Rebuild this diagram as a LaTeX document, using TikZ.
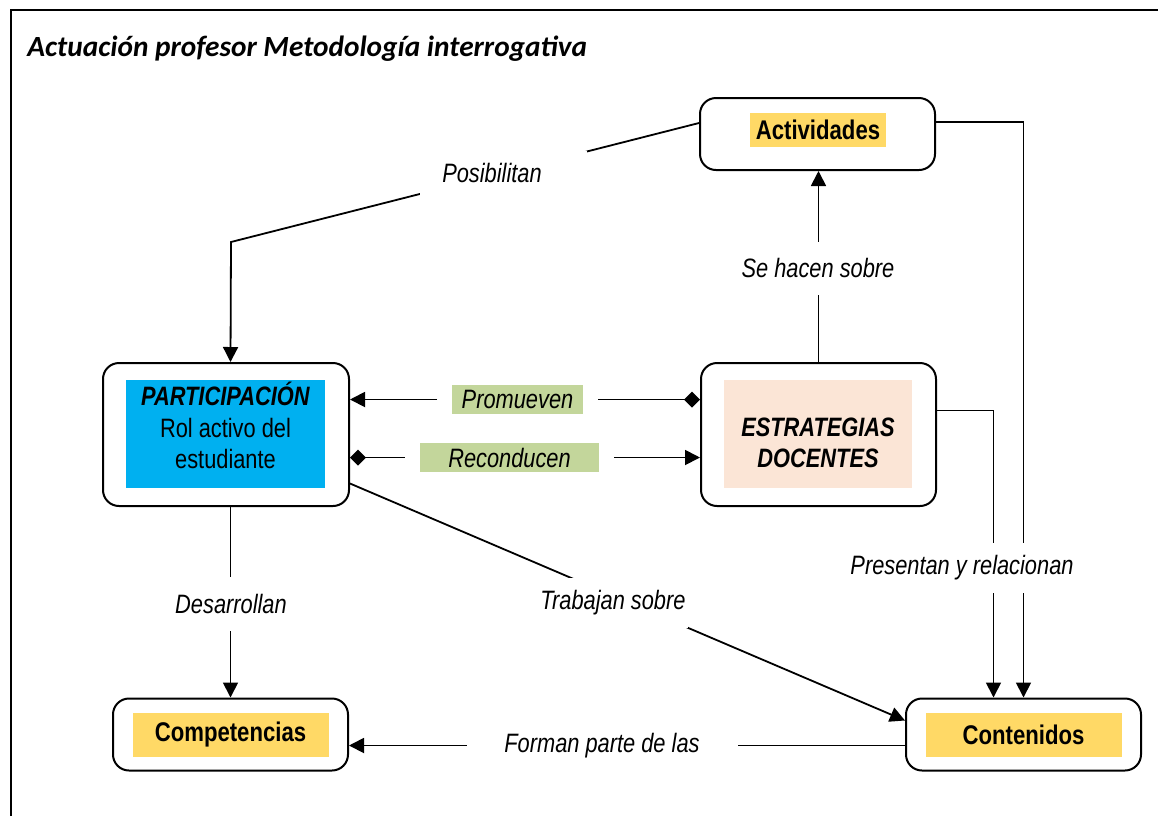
\documentclass[tikz,border=0pt]{standalone}
\usepackage{fontspec}
\setmainfont[FakeStretch=0.82]{Liberation Sans}
\newfontfamily\titlefont{Carlito}
\usetikzlibrary{arrows.meta,calc}
\definecolor{hlyellow}{HTML}{FFD966}
\definecolor{partblue}{HTML}{00B0F0}
\definecolor{estrpeach}{HTML}{FBE5D6}
\definecolor{taggreen}{HTML}{C3D69B}
\begin{document}
\begin{tikzpicture}[
		x=0.5pt, y=-0.5pt,
		every node/.style={
				font=\fontsize{13.3}{15.75}\selectfont,
			},
		box/.style={draw, line width=1pt, rounded corners=8pt, minimum width=117.5pt, minimum height=36pt},
		hl/.style={fill=hlyellow, inner sep=0pt, font=\fontsize{13.5}{16}\selectfont\bfseries},
		lbl/.style={fill=white, inner sep=0pt, font=\fontsize{13.3}{15.75}\selectfont\itshape},
		tag/.style={fill=taggreen, inner sep=0pt, outer sep=7.5pt, minimum height=14.5pt, font=\fontsize{13.3}{15.75}\selectfont\itshape},
		arr/.style={-{Triangle[length=7.5pt,width=7.5pt]}, line width=0.9pt},
		dia/.style={{Diamond[length=8pt,width=8pt]}-, line width=0.9pt},
	]
	\useasboundingbox (0,0) rectangle (1158,816);
	\draw [line width=1.2pt] (11,816) -- (11,10) -- (1158,10);
	\node[anchor=base west, inner sep=0pt, font=\titlefont\fontsize{14.65}{17}\selectfont\bfseries\itshape] (title) at (27,56) {Actuación profesor Metodología interrogativa};

	\node[box] (act) at (817.5,134) {};
	\node[hl, minimum width=68pt, minimum height=17pt] (actT) at (818,130) {Actividades};
	\node[box, minimum width=123pt, minimum height=71.5pt] (part) at (226,434.5) {};
	\node[fill=partblue, minimum width=99.5pt, minimum height=54pt] (partT) at (225.5,434) {};
	\node[align=center] (partL) at (225.5,425.5) {\textbf{\textit{PARTICIPACIÓN}}\\Rol activo del\\estudiante};
	\node[box, minimum height=71.5pt] (estr) at (818.5,434.5) {};
	\node[fill=estrpeach, minimum width=94pt, minimum height=54pt] (estrT) at (818,434) {};
	\node[align=center, font=\fontsize{13.3}{15.5}\selectfont\bfseries\itshape] (estrL) at (818,443) {ESTRATEGIAS\\DOCENTES};
	\foreach \nm/\x/\txt in {comp/230.5/Competencias, cont/1023.5/Contenidos} {
			\node[box] (\nm) at (\x,734.5) {};
			\node[hl, minimum width=98pt, minimum height=22pt] (\nm T) at (\x,735) {\txt};
		}
	\node[tag, minimum width=65.5pt] (prom) at (517.5,399.5) {Promueven};
	\node[tag, minimum width=89.5pt] (recon) at (509.5,457.5) {Reconducen};

	\draw [arr] ($(act.west)+(0,-11)$) -- (231,242) -- (part.north -| comp.north);
	\draw [arr] (estr.north) -- (estr.north |- act.south);
	\draw [arr] (prom) -- (prom -| part.east);
	\draw [dia] (prom -| estr.west) -- (prom);
	\draw [dia] (recon -| part.east) -- (recon);
	\draw [arr] (recon) -- (recon -| estr.west);
	\draw [arr] ($(estr.east)+(0,-24)$) -| ($(cont.north)+(-30,0)$);
	\draw [arr] ($(act.east)+(0,-12)$) -| (cont.north);
	\draw [arr] (part.south -| comp.north) -- (comp.north);
	\draw [arr] ($(part.east)+(0,49)$) -- ($(cont.west)+(0,-14)$);
	\draw [arr] ($(cont.west)+(0,11)$) -- ($(comp.east)+(0,11)$);
	% labels sit on top of the lines
	\node[lbl, minimum width=83.5pt, minimum height=22pt] (posib) at (503,173) {Posibilitan\kern11pt};
	\node[lbl, minimum width=78pt, minimum height=26.5pt] (sehacen) at (818,268) {Se hacen sobre};
	\node[lbl, minimum height=25pt] (present) at (962,568) {Presentan y relacionan};
	\node[lbl, minimum height=27pt] (desarr) at (231,604) {Desarrollan};
	\node[lbl, minimum width=75pt, minimum height=25pt] (trabaj) at (613,603) {Trabajan sobre};
	\node[lbl, minimum width=135.5pt, minimum height=15pt] (forman) at (602,746) {Forman parte de las};
\end{tikzpicture}
\end{document}
